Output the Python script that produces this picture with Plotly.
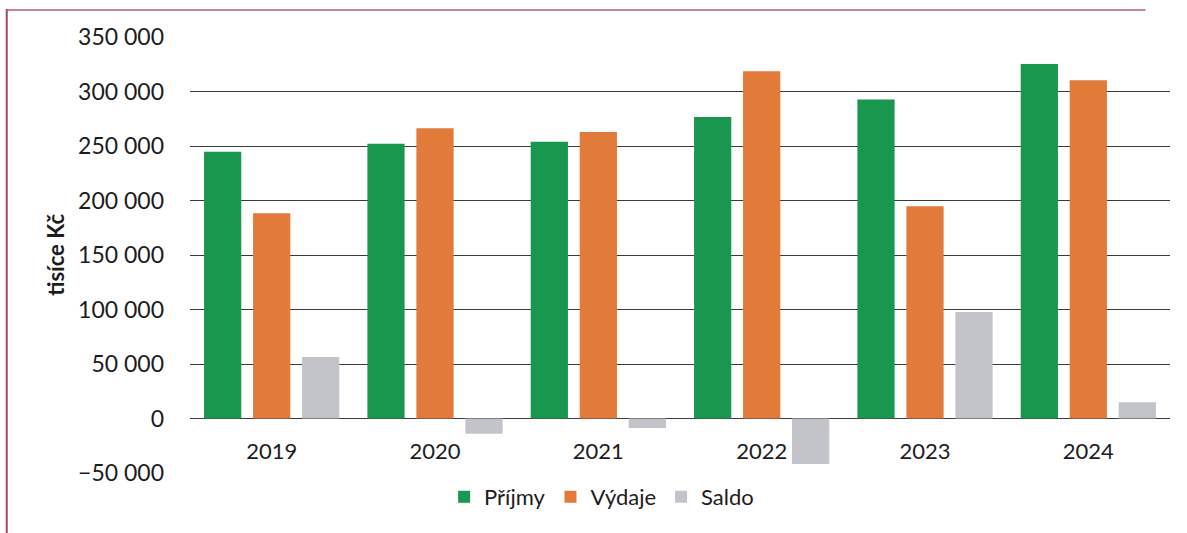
import plotly.graph_objects as go

years = ["2019", "2020", "2021", "2022", "2023", "2024"]
prijmy = [244800, 252100, 254000, 276700, 292600, 325300]
vydaje = [188400, 266200, 262800, 318500, 194800, 310400]
saldo = [56400, -14100, -8800, -41800, 97800, 14900]

series_names = ["Příjmy", "Výdaje", "Saldo"]
colors = ["#19974f", "#e27a3a", "#c3c3ca"]

fig = go.Figure()
for name, vals, col in zip(series_names, [prijmy, vydaje, saldo], colors):
    fig.add_trace(go.Bar(x=years, y=vals, name=name, marker_color=col,
                         marker_line_width=0))

fig.update_layout(
    width=1187, height=533,
    margin=dict(l=190, r=17, t=37, b=60),
    paper_bgcolor="white", plot_bgcolor="white",
    font=dict(family="Lato, Open Sans, sans-serif", size=23, color="#1c1c1c"),
    separators=". ",
    barmode="group", bargap=0.1, bargroupgap=0.24,
    showlegend=True,
    legend=dict(orientation="h", x=0.42, xanchor="center", y=-0.055, yanchor="middle",
                font=dict(size=22), itemwidth=30, traceorder="normal"),
)
fig.update_xaxes(
    anchor="free", position=0.125, showline=False, ticks="",
    ticklabelstandoff=17, showgrid=False, tickfont=dict(size=22),
)
fig.update_yaxes(
    range=[-50000, 350000], dtick=50000, tickformat=",d",
    showgrid=True, gridcolor="#3a3a3a", gridwidth=1,
    zeroline=True, zerolinecolor="#3a3a3a", zerolinewidth=1,
    ticks="", ticklabelstandoff=25, tickfont=dict(size=23),
)

# y axis title
fig.add_annotation(text="<b>tisíce Kč</b>", xref="paper", yref="paper",
                   x=-0.138, y=0.5, xanchor="center", yanchor="middle",
                   textangle=-90, showarrow=False, font=dict(size=22))

# scan frame (left and top edge)
fig.add_shape(type="line", xref="paper", yref="paper", x0=-0.187, x1=-0.187,
              y0=-0.14, y1=1.064, line=dict(color="#a3485a", width=2))
fig.add_shape(type="line", xref="paper", yref="paper", x0=-0.187, x1=0.975,
              y0=1.062, y1=1.062, line=dict(color="#b06070", width=1.5))

fig.write_html("out.html", config={"displayModeBar": False},
               post_script="document.body.style.margin='0px';")
